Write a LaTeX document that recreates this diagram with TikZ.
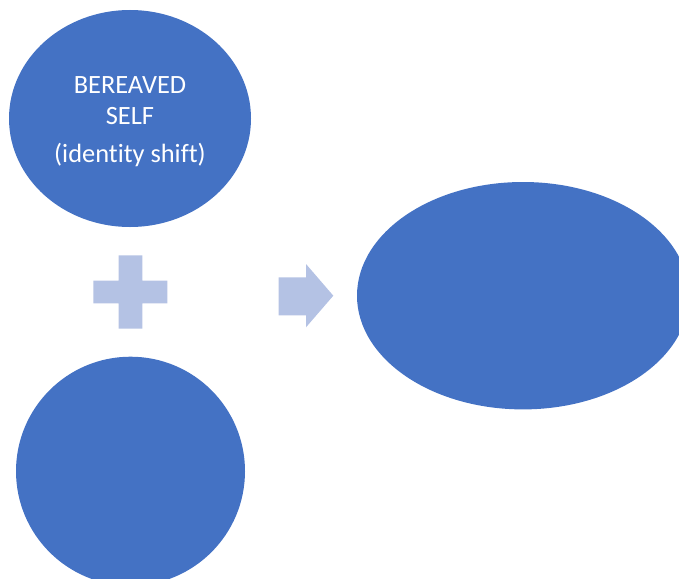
\documentclass[tikz,border=0pt]{standalone}
\usepackage{fontspec}
\setmainfont{Carlito}[Ligatures=NoCommon]
\usetikzlibrary{shapes.geometric}
\definecolor{accentblue}{HTML}{4472C4}
\definecolor{signtint}{HTML}{B4C2E4}
\begin{document}
\begin{tikzpicture}[x=1pt,y=-1pt,
  blob/.style={ellipse, fill=accentblue, draw=none, inner sep=0pt},
  caption/.style={inner sep=0pt, text=white,
    font=\fontsize{26.4}{30.6}\selectfont, align=center},
  sign/.style={fill=signtint, draw=none}]
\useasboundingbox (0,0) rectangle (679,578);
\clip (0,0) rectangle (679,578);

% the three ellipses
\node[blob, minimum width=242pt, minimum height=217pt] (self) at (130,118.5) {};
\node[blob, minimum width=229pt, minimum height=229pt] (other) at (130.5,471.2) {};
\node[blob, minimum width=332pt, minimum height=227.4pt] (result) at (523,295.7) {};

% text of the upper ellipse
\node[caption] (selftext) at ([yshift=-3.5pt]self.center)
  {BEREAVED\\SELF\\[7.8pt](identity shift)};

% plus sign between the left ellipses
\coordinate (plus) at (130.5,292);
\fill[sign] (93.3,280.7) -- (118.7,280.7) -- (118.7,255.3) -- (142.3,255.3)
  -- (142.3,280.7) -- (167.3,280.7) -- (167.3,303.3) -- (142.3,303.3)
  -- (142.3,328.7) -- (118.7,328.7) -- (118.7,303.3) -- (93.3,303.3) -- cycle;

% block arrow towards the result
\coordinate (arrowtip) at (333.3,295.7);
\fill[sign] (278.7,277.3) -- (306,277.3) -- (306,264) -- (arrowtip)
  -- (306,327.3) -- (306,315.3) -- (278.7,315.3) -- cycle;
\end{tikzpicture}
\end{document}
